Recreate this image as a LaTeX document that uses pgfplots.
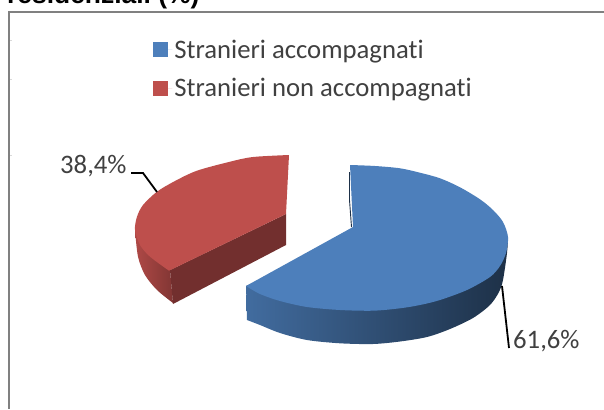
\documentclass[border=0pt]{standalone}
\usepackage{pgfplots}
\pgfplotsset{compat=1.18}
\usepackage{fontspec}
\setmainfont[Ligatures=NoCommon]{Carlito}
\newfontfamily\arialb[BoldFont=Liberation Sans Bold]{Liberation Sans}
\definecolor{bluetop}{HTML}{4D7FBB}
\definecolor{redtop}{HTML}{BE4F4C}
\definecolor{txt}{HTML}{404040}
\begin{document}
\begin{tikzpicture}
\begin{axis}[
  width=604pt,height=409pt,scale only axis,
  xmin=0,xmax=604,ymin=0,ymax=409,y dir=reverse,
  axis lines=none,clip=true,no marks,
  legend style={at={(axis cs:152.7,37.5)},anchor=north west,draw=none,fill=none,
    font=\fontsize{26.7}{26.7}\selectfont\color{txt},row sep=15pt,inner xsep=0pt,inner ysep=0pt,
    cells={anchor=west}},
  legend image code/.code={\fill[#1] (0pt,-7.5pt) rectangle (15.5pt,7.5pt);\path (0pt,0pt) -- (19.5pt,0pt);},
  legend cell align=left,
]
\path (axis cs:0,0) rectangle (axis cs:604,409);
% frame
\addplot[forget plot,color=black!50,line width=1.3pt] coordinates {(604,12)(9,12)};
\addplot[forget plot,color=black!50,line width=2.4pt] coordinates {(9.2,11.4)(9.2,409)};
\addplot[forget plot,color=black!15,line width=0.6pt] coordinates {(10,40.7)(12,40.7)};
\addplot[forget plot,color=black!15,line width=0.6pt] coordinates {(10,79)(12,79)};
\addplot[forget plot,color=black!15,line width=0.6pt] coordinates {(10,155)(12,155)};
% red band (outer)
\addplot[forget plot,draw=none,smooth,left color=redtop!92!black,right color=redtop!68!black] coordinates
 {(135,230)(138,256.7)(145,275)(157,290)(173,303)} -- (axis cs:170,270) -- cycle;
% red cut face
\addplot[forget plot,draw=none,fill=redtop!60!black] coordinates
 {(286,214)(170,270)(173,304)(286,245)} -- cycle;
% blue band
\addplot[forget plot,draw=none,smooth,left color=bluetop!85!black,middle color=bluetop!55!black,right color=bluetop!38!black] coordinates
 {(508,238)(507,253)(503,280)(499,292)(490,305)(473,318)(450,329)(427,337)(400,341.5)(373,344)(340,343.3)(307,340)(280,333)(260,325)(247,320)} -- (axis cs:246,286) -- (axis cs:350,240) -- cycle;
% blue cut face sliver
\addplot[forget plot,color=bluetop!38!black,line width=0.9pt] coordinates {(349.5,172)(349.5,200)(351.5,227)};
% blue top
\addplot[draw=none,fill=bluetop,smooth] coordinates
 {(350,165)(375,166)(400,168.3)(420,172.7)(440,178.3)(460,187.3)(480,199.3)(493,210)(503,222)(508,237)(506,253)(500,266)(490,277)(467,290)(440,300)(420,305)(400,308.3)(373,310.7)(340,310)(307,307)(280,301)(260,294)(246,286)} -- (axis cs:353,227) -- cycle;
\addlegendentry{Stranieri accompagnati}
% red top
\addplot[draw=none,fill=redtop,smooth] coordinates
 {(289,155)(253,157)(230,161.7)(197,170.7)(175,181)(157,191.7)(143,205)(137,216.7)(135,230)(140,245)(150,256.7)(169,270.7)} -- (axis cs:286,214) -- cycle;
\addlegendentry{Stranieri non accompagnati}
% leader lines
\addplot[forget plot,color=black,line width=1.8pt] coordinates {(131,173)(143,173)(157,192)};
\addplot[forget plot,color=black,line width=1.8pt] coordinates {(502,286)(509,348)};
\node[anchor=base west,inner sep=0pt,font=\fontsize{26.7}{26.7}\selectfont,text=txt] at (axis cs:60,173) {38,4\%};
\node[anchor=base west,inner sep=0pt,font=\fontsize{26.7}{26.7}\selectfont,text=txt] at (axis cs:513,348) {61,6\%};
\node[anchor=base west,inner sep=0pt,font=\arialb\bfseries\fontsize{26.4}{26.4}\selectfont,text=black] at (axis cs:7,4) {residenziali (\%)};
\end{axis}
\end{tikzpicture}
\end{document}
